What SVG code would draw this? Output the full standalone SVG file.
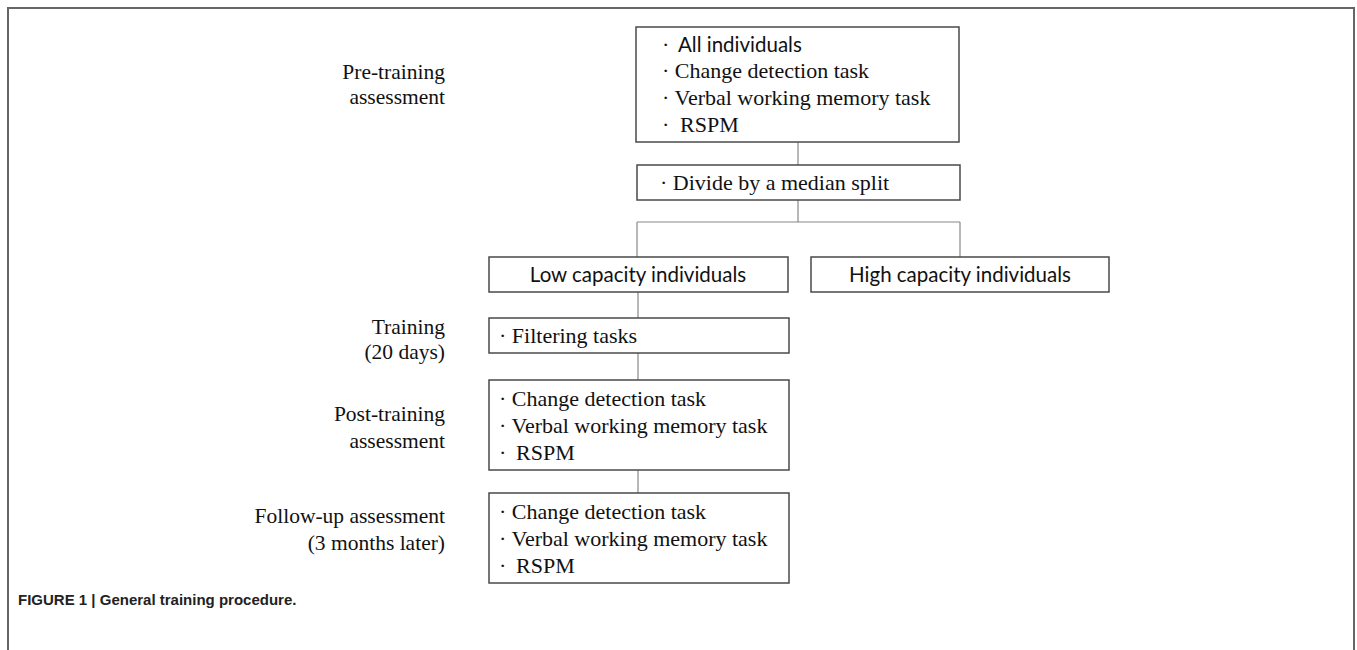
<svg xmlns="http://www.w3.org/2000/svg" width="1357" height="650" viewBox="0 0 1357 650">
<style>
.box{fill:#fff;stroke:#4a4a4a;stroke-width:1.5}
.con{fill:none;stroke:#888;stroke-width:1.2}
.serif{font-family:"Liberation Serif","Times New Roman",serif;font-size:22px;fill:#111}
.sans{font-family:Lato,"Open Sans",sans-serif;font-size:20.5px;fill:#111}
.lbl{font-family:"Liberation Serif","Times New Roman",serif;font-size:21.5px;fill:#111;text-anchor:end}
.cap{font-family:"Liberation Sans",Arial,sans-serif;font-size:15px;font-weight:bold;fill:#222}
</style>
<rect x="0" y="0" width="1357" height="650" fill="#fff"/>
<rect x="8" y="8" width="1346" height="700" fill="none" stroke="#666" stroke-width="2"/>

<g id="labels">
<text class="lbl" x="445" y="79">Pre-training</text>
<text class="lbl" x="445" y="104">assessment</text>
<text class="lbl" x="445" y="334">Training</text>
<text class="lbl" x="445" y="359">(20 days)</text>
<text class="lbl" x="445" y="421">Post-training</text>
<text class="lbl" x="445" y="448">assessment</text>
<text class="lbl" x="445" y="523">Follow-up assessment</text>
<text class="lbl" x="445" y="550">(3 months later)</text>
</g>

<g id="connectors">
<line class="con" x1="798" y1="142" x2="798" y2="165"/>
<path class="con" d="M798 200 V222 M637 222 H960 M637 222 V257 M960 222 V257"/>
<line class="con" x1="638" y1="292" x2="638" y2="318"/>
<line class="con" x1="638" y1="353" x2="638" y2="380"/>
<line class="con" x1="638" y1="470" x2="638" y2="493"/>
</g>

<g id="node-pre">
<rect class="box" x="636" y="27" width="323" height="115"/>
<text class="serif" x="662" y="52">·</text>
<text class="sans" x="678" y="52">All individuals</text>
<text class="serif" x="662" y="78">· Change detection task</text>
<text class="serif" x="662" y="105">· Verbal working memory task</text>
<text class="serif" x="662" y="132">·</text>
<text class="serif" x="680" y="132">RSPM</text>
</g>

<g id="node-divide">
<rect class="box" x="637" y="165" width="323" height="35"/>
<text class="serif" x="660" y="190">· Divide by a median split</text>
</g>

<g id="node-low">
<rect class="box" x="489" y="257" width="299" height="35"/>
<text class="sans" x="638" y="282" text-anchor="middle">Low capacity individuals</text>
</g>

<g id="node-high">
<rect class="box" x="811" y="257" width="298" height="35"/>
<text class="sans" x="960" y="282" text-anchor="middle">High capacity individuals</text>
</g>

<g id="node-training">
<rect class="box" x="489" y="318" width="300" height="35"/>
<text class="serif" x="499" y="343">· Filtering tasks</text>
</g>

<g id="node-post">
<rect class="box" x="489" y="380" width="300" height="90"/>
<text class="serif" x="499" y="406">· Change detection task</text>
<text class="serif" x="499" y="433">· Verbal working memory task</text>
<text class="serif" x="499" y="460">·</text>
<text class="serif" x="516" y="460">RSPM</text>
</g>

<g id="node-follow">
<rect class="box" x="489" y="493" width="300" height="90"/>
<text class="serif" x="499" y="519">· Change detection task</text>
<text class="serif" x="499" y="546">· Verbal working memory task</text>
<text class="serif" x="499" y="573">·</text>
<text class="serif" x="516" y="573">RSPM</text>
</g>

<text class="cap" x="18" y="605">FIGURE 1 | General training procedure.</text>
</svg>
